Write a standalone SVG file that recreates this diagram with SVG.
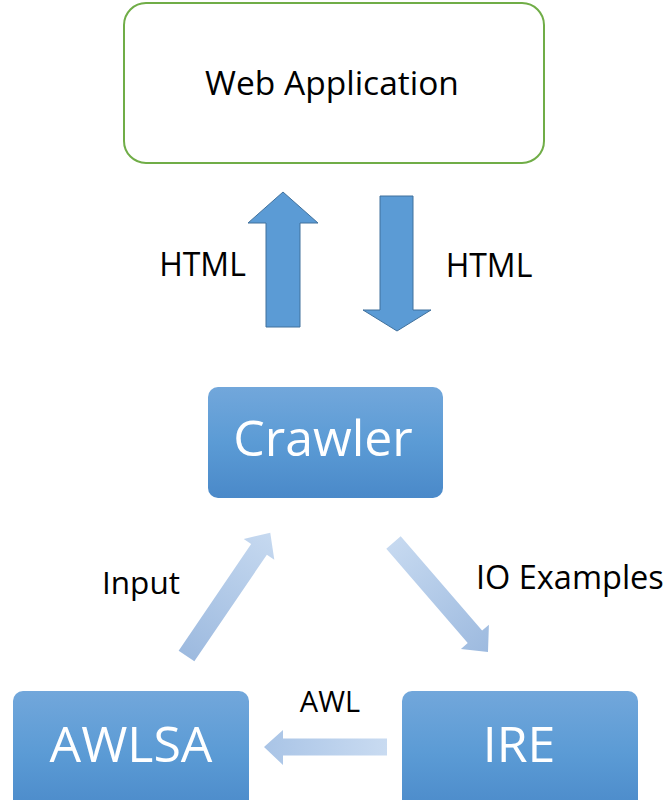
<svg xmlns="http://www.w3.org/2000/svg" width="669" height="800" viewBox="0 0 669 800">
  <defs>
    <linearGradient id="boxGrad" x1="0" y1="0" x2="0" y2="1">
      <stop offset="0" stop-color="#72A7DB"/>
      <stop offset="0.5" stop-color="#5B9BD5"/>
      <stop offset="1" stop-color="#4A89C9"/>
    </linearGradient>
    <linearGradient id="darkToLight" x1="0" y1="0" x2="1" y2="0">
      <stop offset="0" stop-color="#9DBADF"/>
      <stop offset="1" stop-color="#C6D9F0"/>
    </linearGradient>
    <linearGradient id="lightToDark" x1="0" y1="0" x2="1" y2="0">
      <stop offset="0" stop-color="#C6D9F0"/>
      <stop offset="1" stop-color="#9DBADF"/>
    </linearGradient>
    <linearGradient id="awlGrad" x1="0" y1="0" x2="1" y2="0">
      <stop offset="0" stop-color="#A9C4E6"/>
      <stop offset="1" stop-color="#C9DBF1"/>
    </linearGradient>
  </defs>
  <style>
    .lbl { font-family: "Open Sans", "Liberation Sans", sans-serif; fill: #000000; }
    .node-text { font-family: "Open Sans", "Liberation Sans", sans-serif; fill: #FFFFFF; text-anchor: middle; }
    .blue-box { fill: url(#boxGrad); }
    .bold-arrow { fill: #5B9BD5; stroke: #41719C; stroke-width: 1; }
  </style>
  <rect width="669" height="800" fill="#FFFFFF"/>

  <g id="web-application">
    <rect x="124" y="3" width="420" height="160" rx="22" ry="22" fill="#FFFFFF" stroke="#70AD47" stroke-width="2"/>
    <text class="lbl" x="332" y="95" font-size="33.5" text-anchor="middle">Web Application</text>
  </g>

  <g id="crawler">
    <rect class="blue-box" x="208" y="387" width="235" height="111" rx="10" ry="10"/>
    <text class="node-text" x="323" y="456" font-size="50">Crawler</text>
  </g>

  <g id="awlsa">
    <rect class="blue-box" x="13" y="691" width="236" height="125" rx="10" ry="10"/>
    <text class="node-text" x="131" y="762" font-size="50">AWLSA</text>
  </g>

  <g id="ire">
    <rect class="blue-box" x="402" y="691" width="236" height="125" rx="10" ry="10"/>
    <text class="node-text" x="519" y="762" font-size="50">IRE</text>
  </g>

  <g id="connectors">
    <polygon class="bold-arrow" points="283,192 318,223 300,223 300,327 266,327 266,223 248,223"/>
    <polygon class="bold-arrow" points="380,196 413,196 413,310 431,310 397,331 363,310 380,310"/>
    <polygon fill="url(#darkToLight)" transform="translate(186.5,656) rotate(-55.8)" points="0,-9.5 129,-9.5 129,-18.5 149,0 129,18.5 129,9.5 0,9.5"/>
    <polygon fill="url(#lightToDark)" transform="translate(393.5,542.5) rotate(49.2)" points="0,-9.5 124.6,-9.5 124.6,-18.5 144.6,0 124.6,18.5 124.6,9.5 0,9.5"/>
    <polygon fill="url(#awlGrad)" points="264,747 283,730 283,738.5 387,738.5 387,755.5 283,755.5 283,765"/>
    <text class="lbl" x="202.5" y="276" font-size="32" text-anchor="middle">HTML</text>
    <text class="lbl" x="489" y="277" font-size="32" text-anchor="middle">HTML</text>
    <text class="lbl" x="102" y="594" font-size="31.5">Input</text>
    <text class="lbl" x="476" y="589" font-size="32.5">IO Examples</text>
    <text class="lbl" x="330" y="712" font-size="29" text-anchor="middle">AWL</text>
  </g>
</svg>
